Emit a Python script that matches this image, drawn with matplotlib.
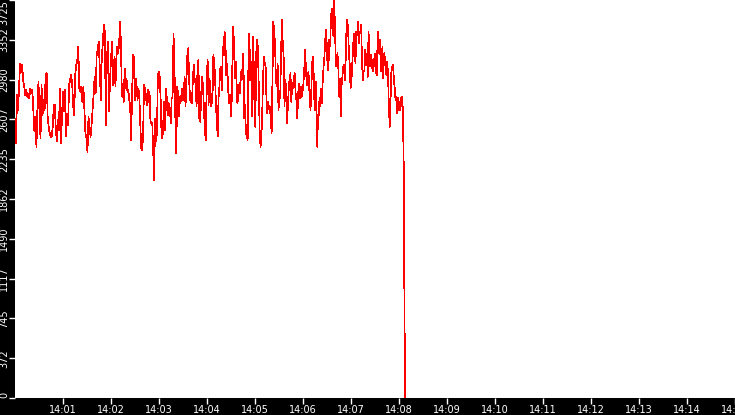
import matplotlib
matplotlib.use("Agg")
import matplotlib.pyplot as plt
import matplotlib.dates as mdates
import numpy as np
import pandas as pd

# samples, left to right, in four stretches of about two minutes
seg_1 = [2617, 2383, 2836, 2695, 2914, 3132, 3054, 3117, 2976, 2914, 2836, 2883, 2820, 2851,
         2805, 2898, 2851, 2883, 2695, 2493, 2633, 2352, 2727, 2961, 2664, 2430, 2929, 2649,
         2789, 2695, 3023, 3039, 2633, 2539, 2477, 2446, 2446, 2539, 2742, 2742, 2508, 2399,
         2602, 2508, 2898, 2383, 2633, 2867, 2680, 2883, 2446, 2664, 2555, 2929, 2976, 3023,
         2945, 2727, 2649, 3023, 3117, 3163, 3288, 2898, 2867, 2914, 2773, 2914, 2695, 2477,
         2430, 2305, 2633, 2539, 2446, 2555, 2695, 2836, 3007, 2851, 3210, 3257, 3335, 3101,
         2789, 3179, 3319, 3491, 3429, 2555, 3163, 3335, 2680, 2945, 3163, 3335, 2929]
seg_2 = [3195, 2914, 3179, 3288, 3226, 3319, 3522, 3304, 2820, 2929, 2773, 3085, 2898, 2992,
         2867, 2883, 2789, 2727, 2415, 2805, 3210, 3195, 2789, 2992, 2914, 2789, 2898, 2805,
         2555, 2337, 2321, 2461, 2929, 2898, 2836, 2742, 2883, 2773, 2867, 2571, 2586, 2555,
         2290, 2040, 2617, 2399, 2477, 3007, 3054, 3007, 2805, 2461, 2430, 2602, 2773, 2508,
         2898, 2758, 2649, 2758, 2711, 2571, 2805, 2820, 3413, 3117, 2617, 2290, 2914, 2836,
         2633, 2820, 2773, 2898, 2789, 2805, 3007, 2727, 2976, 3210, 3273, 2961, 2789, 2773,
         2758, 2992, 3117, 2976, 2945, 2727, 3070, 3163, 2617, 2586, 2836, 3007, 2914, 2695,
         2493, 2415, 2992, 3163, 2742, 2992, 2898, 2727]
seg_3 = [2820, 3210, 3148, 3007, 2742, 2586, 2446, 2805, 2914, 3085, 3101, 2883, 3288, 3210,
         3429, 3366, 3023, 3132, 2945, 2758, 2836, 2789, 2633, 3054, 3475, 3335, 2992, 3148,
         2976, 2758, 2805, 2929, 2851, 3054, 2976, 3101, 3226, 2617, 2742, 2477, 2461, 2415,
         3210, 3413, 2976, 3148, 2633, 3382, 3163, 2711, 2539, 3226, 3351, 3273, 2914, 2508,
         2352, 2430, 2664, 3007, 3195, 3132, 3101, 2789, 2664, 2773, 2711, 2727, 2602, 2477,
         2992, 3522, 3429, 3304, 2976, 2914, 3132, 2695, 2820, 2805, 3226, 3538, 3319, 3210,
         2727, 2976, 2883, 2571, 2727, 2898, 2992, 3039, 2773, 2945, 2898, 2992, 3039, 2851,
         2789, 2617, 2851, 2945, 2805, 2914, 2820, 2867, 2929, 3054, 3257, 3101, 2929, 3007,
         3054, 2883]
seg_4 = [2695, 2883, 3132, 3195, 3007, 2695, 2695, 2961, 2352, 2571, 2649, 2805, 2727, 2898,
         2758, 2992, 3101, 3195, 3351, 3444, 3288, 3070, 3117, 3351, 3288, 3553, 3647, 3538,
         3382, 3725, 3444, 3101, 3179, 3226, 3101, 2820, 2992, 2633, 2929, 3007, 3101, 3117,
         2976, 3163, 3460, 3538, 3444, 3226, 3117, 2898, 2961, 3117, 3288, 3413, 3257, 3132,
         3429, 3397, 3522, 3319, 3413, 3429, 3491, 3148, 2976, 3054, 3070, 3257, 3148, 3226,
         3007, 3429, 3257, 3101, 3210, 3132, 3054, 3179, 3101, 3226, 3054, 3023, 3319, 3429,
         3226, 3351, 3054, 3163, 3288, 2992, 3226, 3179, 3054, 3023, 3148, 2976, 2695, 2539,
         2820, 3070, 3101, 3117, 2976, 2898, 2789, 2820, 2664, 2805, 2695, 2773, 2695, 2805,
         2820, 2695, 2196, 745, 0]

# first and last timestamp of each stretch
seg_bounds = [
    ("2024-01-01 14:00:00.0", "2024-01-01 14:02:02.5"),
    ("2024-01-01 14:02:04.4", "2024-01-01 14:04:05.4"),
    ("2024-01-01 14:04:06.9", "2024-01-01 14:06:07.9"),
    ("2024-01-01 14:06:09.4", "2024-01-01 14:08:07.9"),
]

x_start = pd.Timestamp("2024-01-01 14:00:00")
x_end = pd.Timestamp("2024-01-01 14:15:00")
y_ticks = np.linspace(0, 3725, 11)
y_tick_labels = ["0", "372", "745", "1117", "1490", "1862", "2235", "2607", "2980", "3352", "3725"]

segments = [seg_1, seg_2, seg_3, seg_4]
times = pd.DatetimeIndex([])
for seg, (t0, t1) in zip(segments, seg_bounds):
    times = times.append(pd.date_range(t0, t1, periods=len(seg)))
values = np.concatenate(segments)

fig = plt.figure(figsize=(7.35, 4.15), dpi=100, facecolor="black")
ax = fig.add_axes([15 / 735, 17 / 415, 720 / 735, 398 / 415], facecolor="white")

ax.plot(times, values, color="#ff0000", linewidth=0.5, antialiased=False)

ax.set_xlim(x_start, x_end)
ax.set_ylim(0, 3725)

ax.xaxis.set_major_locator(mdates.MinuteLocator(byminute=range(1, 16)))
ax.xaxis.set_major_formatter(mdates.DateFormatter("%H:%M"))
ax.set_yticks(y_ticks)
ax.set_yticklabels(y_tick_labels, rotation=90, va="center")
ylabels = ax.get_yticklabels()
ylabels[0].set_va("bottom")
ylabels[-1].set_va("top")

ax.tick_params(axis="both", colors="white", labelsize=7, length=4, width=1,
               direction="out", pad=1)
ax.tick_params(axis="y", pad=0)
for spine in ax.spines.values():
    spine.set_visible(False)

fig.savefig("out.png", dpi=100, facecolor="black")
plt.close(fig)
